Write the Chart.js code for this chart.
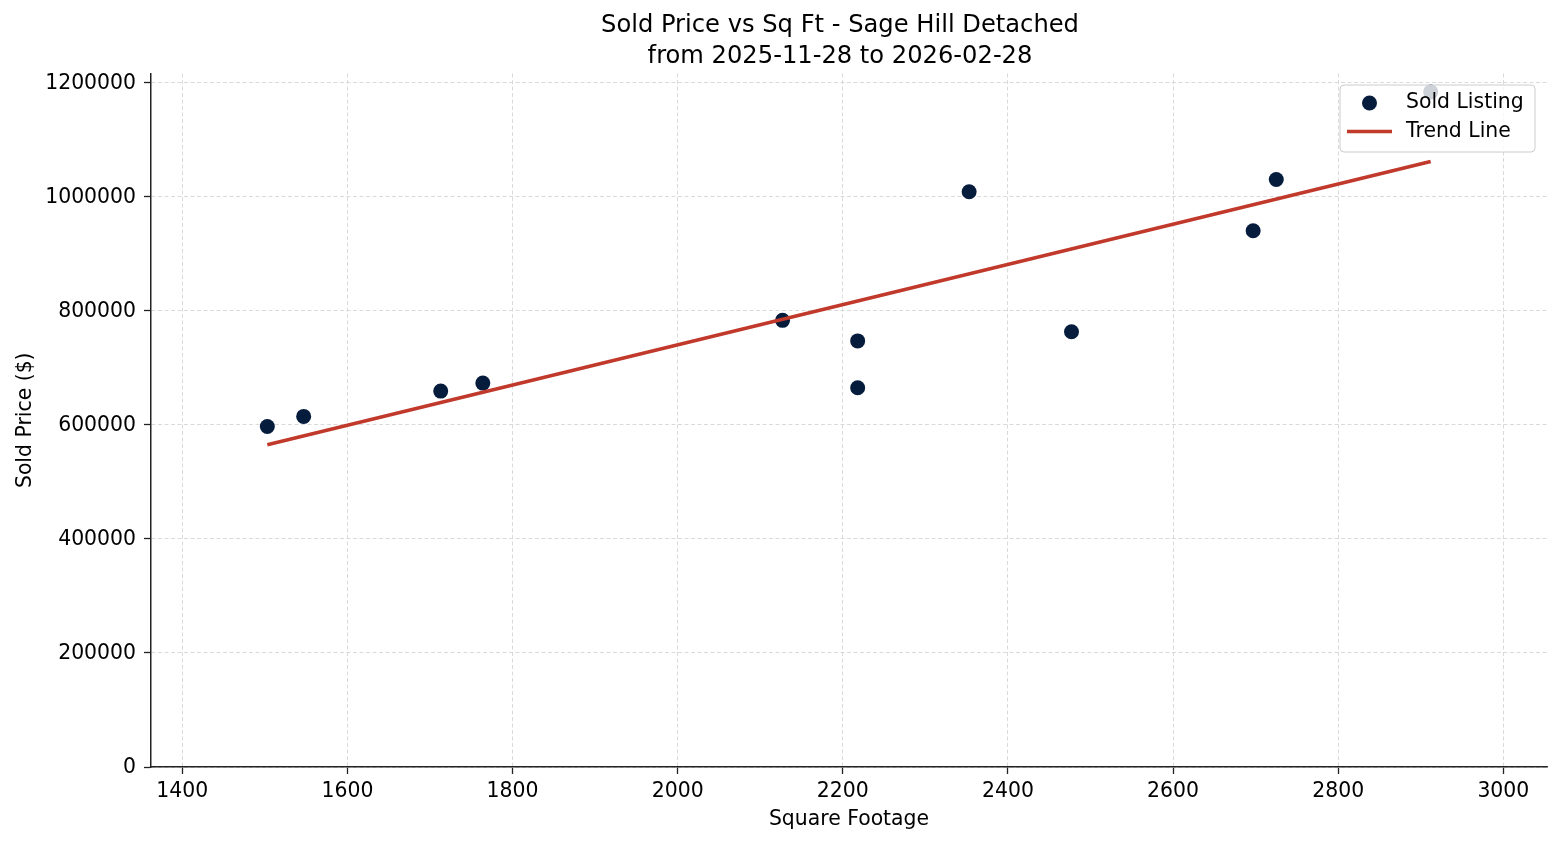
<!DOCTYPE html>
<html>
<head>
<meta charset="utf-8">
<title>Sold Price vs Sq Ft - Sage Hill Detached</title>
<script src="https://cdn.jsdelivr.net/npm/chart.js@4/dist/chart.umd.min.js"></script>
<style>
    html, body { margin: 0; padding: 0; background: #fff; }
    #wrap { width: 1560px; height: 845px; position: relative; }
</style>
</head>
<body>
<div id="wrap"><canvas id="soldPriceChart"></canvas></div>
<script>
// Sold listings (square footage / sold price)
const sqFt = [1503, 1547, 1713, 1764, 2127, 2218, 2218, 2353, 2477, 2697, 2725, 2912];
const soldPrice = [597000, 614600, 659000, 673000, 783000, 747000, 665000, 1008500, 763000, 940000, 1030000, 1183500];

// Trend line end points
const trendSqFt = [1503, 2912];
const trendPrice = [565000, 1061500];

// Tick labels
const xTicks = [1400, 1600, 1800, 2000, 2200, 2400, 2600, 2800, 3000];
const yTicks = [0, 200000, 400000, 600000, 800000, 1000000, 1200000];

const titleLines = ['Sold Price vs Sq Ft - Sage Hill Detached', 'from 2025-11-28 to 2026-02-28'];
const legendLabels = ['Sold Listing', 'Trend Line'];

const colors = {
    navy: '#051c3d',
    red: '#c0392b',
    grid: '#d0d0d0',
    axis: '#222222'
};

const FONT = 'DejaVu Sans';
const TEXT_SIZE = 20.4;

// Title in the original is centred a bit left of the plot centre
const shiftTitle = {
    id: 'shiftTitle',
    afterLayout(chart) {
        if (chart.titleBlock) {
            chart.titleBlock.left = 133;
            chart.titleBlock.right = 1547;
        }
    }
};

// Legend drawn inside the plot, on top of the points (translucent box)
const insideLegend = {
    id: 'insideLegend',
    afterDatasetsDraw(chart) {
        const ctx = chart.ctx;
        const x = 1340, y = 85, w = 195, h = 67, r = 4;
        ctx.save();
        ctx.beginPath();
        ctx.roundRect(x, y, w, h, r);
        ctx.fillStyle = 'rgba(255,255,255,0.8)';
        ctx.fill();
        ctx.lineWidth = 1;
        ctx.strokeStyle = '#cccccc';
        ctx.stroke();

        ctx.beginPath();
        ctx.arc(1369.5, 103, 7.5, 0, Math.PI * 2);
        ctx.fillStyle = colors.navy;
        ctx.fill();

        ctx.beginPath();
        ctx.moveTo(1347, 131.5);
        ctx.lineTo(1392, 131.5);
        ctx.lineWidth = 3.5;
        ctx.strokeStyle = colors.red;
        ctx.stroke();

        ctx.fillStyle = '#000';
        ctx.font = TEXT_SIZE + 'px "' + FONT + '"';
        ctx.textBaseline = 'middle';
        ctx.textAlign = 'left';
        ctx.fillText(legendLabels[0], 1406, 103);
        ctx.fillText(legendLabels[1], 1406, 132);
        ctx.restore();
    }
};

const points = sqFt.map((v, i) => ({ x: v, y: soldPrice[i] }));
const trend = trendSqFt.map((v, i) => ({ x: v, y: trendPrice[i] }));

const axisGrid = {
    color: colors.grid,
    lineWidth: 0.8,
    tickLength: 7,
    tickColor: colors.axis,
    tickWidth: 1.3
};
const axisBorder = {
    display: true,
    color: colors.axis,
    width: 1.5,
    dash: [4, 2.5]
};

new Chart(document.getElementById('soldPriceChart').getContext('2d'), {
    type: 'scatter',
    data: {
        datasets: [
            {
                label: legendLabels[1],
                data: trend,
                showLine: true,
                borderColor: colors.red,
                borderWidth: 3.5,
                pointRadius: 0,
                fill: false
            },
            {
                label: legendLabels[0],
                data: points,
                backgroundColor: colors.navy,
                borderWidth: 0,
                pointRadius: 7.5,
                pointHoverRadius: 7.5
            }
        ]
    },
    options: {
        responsive: true,
        maintainAspectRatio: false,
        animation: false,
        events: [],
        layout: {
            padding: { left: 0, right: 13, top: 0, bottom: 0 }
        },
        scales: {
            x: {
                type: 'linear',
                position: 'bottom',
                min: 1362.1,
                max: 3052.9,
                afterBuildTicks: (scale) => {
                    scale.ticks = xTicks.map(v => ({ value: v }));
                },
                afterFit: (scale) => {
                    scale.height = 78;
                },
                ticks: {
                    color: '#000',
                    padding: 5,
                    font: { family: FONT, size: TEXT_SIZE },
                    callback: (v) => String(v)
                },
                title: {
                    display: true,
                    text: 'Square Footage',
                    color: '#000',
                    font: { family: FONT, size: TEXT_SIZE },
                    padding: { top: 0, bottom: 13 }
                },
                grid: axisGrid,
                border: axisBorder
            },
            y: {
                type: 'linear',
                position: 'left',
                min: 0,
                max: 1215800,
                afterBuildTicks: (scale) => {
                    scale.ticks = yTicks.map(v => ({ value: v }));
                },
                afterFit: (scale) => {
                    scale.width = 151;
                },
                ticks: {
                    color: '#000',
                    padding: 8,
                    labelOffset: 1,
                    font: { family: FONT, size: TEXT_SIZE },
                    callback: (v) => String(v)
                },
                title: {
                    display: true,
                    text: 'Sold Price ($)',
                    color: '#000',
                    font: { family: FONT, size: TEXT_SIZE },
                    padding: { top: 13, bottom: 0 }
                },
                grid: axisGrid,
                border: axisBorder
            }
        },
        plugins: {
            legend: { display: false },
            tooltip: { enabled: false },
            title: {
                display: true,
                text: titleLines,
                color: '#000',
                font: { family: FONT, size: 24.2, weight: 'normal', lineHeight: 1.25 },
                padding: { top: 11, bottom: 2 }
            }
        }
    },
    plugins: [shiftTitle, insideLegend]
});
</script>
</body>
</html>
